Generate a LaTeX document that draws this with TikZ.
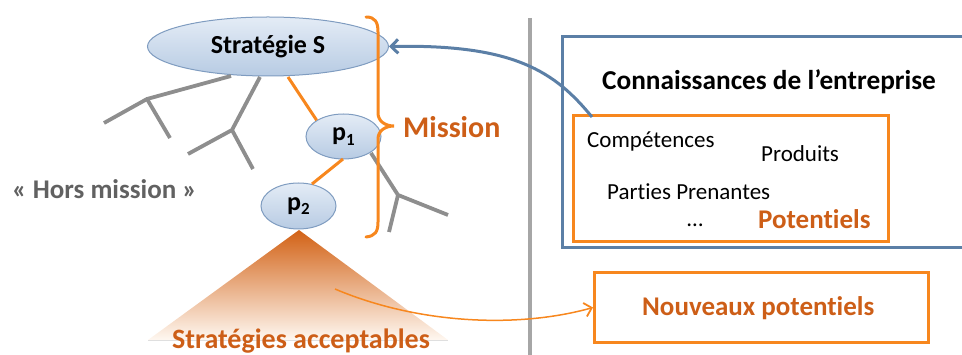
\documentclass[tikz,border=0pt]{standalone}
\usepackage{fontspec}
\setmainfont{Carlito}[RawFeature=-liga]
\usetikzlibrary{shapes.geometric,arrows.meta}
\definecolor{orgline}{HTML}{F7871E}
\definecolor{orgtext}{HTML}{CD5E17}
\definecolor{blueline}{HTML}{5B7FA6}
\definecolor{ellborder}{HTML}{7F9CC0}
\definecolor{elltop}{HTML}{E4ECF6}
\definecolor{ellbot}{HTML}{B7CBE3}
\definecolor{branch}{HTML}{8E8E8E}
\definecolor{sepgray}{HTML}{A6A6A6}
\tikzset{
  ell/.style={ellipse, draw=ellborder, line width=1pt, top color=elltop, bottom color=ellbot, inner sep=0pt, font=\fontsize{26}{30}\selectfont\bfseries},
  oline/.style={draw=orgline, line width=3pt},
  gbranch/.style={draw=branch, line width=3.8pt},
  lbl/.style={anchor=base west, inner sep=0pt},
  otext/.style={lbl, text=orgtext, font=\fontsize{27}{32}\selectfont\bfseries},
  btext/.style={lbl, text=black, font=\fontsize{23}{28}\selectfont},
  obox/.style={draw=orgline, line width=3pt},
}
\newcommand{\subone}[1]{\raisebox{-0.35ex}{\fontsize{17}{20}\selectfont #1}}
\begin{document}
\begin{tikzpicture}[x=1pt,y=-1pt]
\useasboundingbox (0,0) rectangle (962,355);
\clip (0,0) rectangle (962,355);
% separator
\draw[sepgray, line width=4pt] (530,18) -- (530,360);
% triangle
\shade[top color=orgtext!90!orange, bottom color=orgline!6] (299,230) -- (448,340) -- (148,340) -- cycle;
\draw[gray!25, line width=0.6pt] (148,340) -- (448,340);
% ellipses
\node[ell, minimum width=241pt, minimum height=59pt] (S) at (268,46.5) {Stratégie S};
\node[ell, minimum width=75pt, minimum height=45pt] (p1) at (343.5,136.5) {p\subone{1}};
\node[ell, minimum width=75pt, minimum height=46pt] (p2) at (298.5,206) {p\subone{2}};
% gray branches
\coordinate (f1) at (147,99);
\coordinate (f2) at (232,130);
\coordinate (f3) at (398,195);
\draw[gbranch] (231,76) -- (f1) -- (104,123);
\draw[gbranch] (f1) -- (170,138);
\draw[gbranch] (260,77) -- (f2) -- (188,154);
\draw[gbranch] (f2) -- (253,169);
\draw[gbranch] (371,153) -- (f3) -- (448,215);
\draw[gbranch] (f3) -- (389,232);
% orange links
\draw[oline] (288,77) -- (p1.north west);
\draw[oline] (343,159) -- (312,184);
% brace
\draw[orgline, line width=3pt, line cap=round] (366,17) .. controls (375,17) and (378,22) .. (378,32) -- (378,113) .. controls (378,121) and (385,126) .. (394,126) .. controls (385,126) and (378,131) .. (378,139) -- (378,222) .. controls (378,232) and (375,236) .. (366,237);
\node[otext, font=\fontsize{30}{34}\selectfont\bfseries] (mission) at (403,138) {Mission};
\node[lbl, text=black!62, font=\fontsize{27}{30}\selectfont\bfseries] (hors) at (12,199) {«~Hors mission~»};
\node[otext, font=\fontsize{28}{32}\selectfont\bfseries] (accept) at (172,349) {Stratégies acceptables};
% right side boxes
\draw[blueline, line width=3pt] (975,37) -- (562,37) -- (562,248) -- (975,248);
\node[lbl, font=\fontsize{27.3}{31}\selectfont\bfseries] (conn) at (602,90) {Connaissances de l’entreprise};
\node[obox, minimum width=315pt, minimum height=126pt, anchor=north west, inner sep=0pt] (pot) at (572,114) {};
\node[btext] (comp) at (587,148) {Compétences};
\node[btext] (prod) at (761,162) {Produits};
\node[btext] (part) at (607,200) {Parties Prenantes};
\node[btext] (dots) at (687,227) {…};
\node[otext] (potl) at (758,229) {Potentiels};
\node[obox, minimum width=334pt, minimum height=70pt, anchor=north west, inner sep=0pt] (nouv) at (593,271) {};
\node[otext] (nouvt) at (642,316) {Nouveaux potentiels};
% arrows
\coordinate (bstart) at (592,117);
\draw[blueline, line width=3pt, -{Straight Barb[length=7pt,width=14pt,line width=3pt]}] (bstart) .. controls (555,72) and (515,44) .. (S.east);
\coordinate (ostart) at (335,289);
\draw[orgline, line width=1.5pt, -{Straight Barb[length=7pt,width=14pt,line width=1.8pt]}] (ostart) .. controls (420,325) and (520,328) .. (nouv.west);
\end{tikzpicture}
\end{document}
